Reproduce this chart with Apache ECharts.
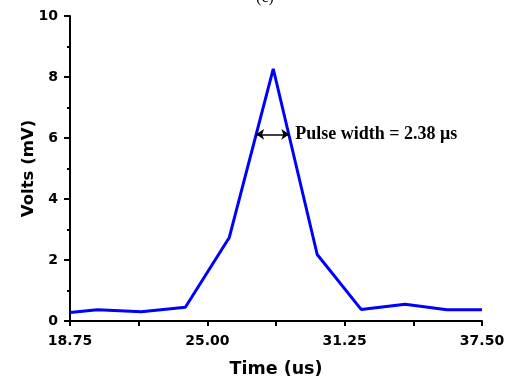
<!DOCTYPE html>
<html><head><meta charset="utf-8">
<script src="https://cdn.jsdelivr.net/npm/echarts@6/dist/echarts.min.js"></script>
<style>html,body{margin:0;padding:0;background:#fff}#c{width:509px;height:383px}</style>
</head><body><div id="c"></div>
<script>
const timeUs = [18.75, 20.0, 22.0, 24.0, 26.0, 28.0, 30.0, 32.0, 34.0, 35.9, 37.5];
const voltsMv = [0.28, 0.37, 0.30, 0.45, 2.74, 8.27, 2.18, 0.38, 0.55, 0.37, 0.37];
const xTicks = [18.75, 25.00, 31.25, 37.50];
const yTicks = [0, 2, 4, 6, 8, 10];
const pulseArrowX = [27.22, 28.73];
const pulseArrowY = 6.12;
const pulseLabel = 'Pulse width = 2.38 \u03bcs';
const titleText = '(c)';

const chart = echarts.init(document.getElementById('c'));
const sans = 'DejaVu Sans, sans-serif';
chart.setOption({
  animation: false,
  title: {text: titleText, left: 260, top: -15, textAlign: 'center',
    textStyle: {fontFamily: 'Liberation Serif, serif', fontWeight: 'normal', fontSize: 16, color: '#000'}},
  grid: {left: 70, right: 27, top: 16, bottom: 60},
  xAxis: {
    type: 'value', min: xTicks[0], max: xTicks[xTicks.length - 1], interval: 6.25,
    name: 'Time (us)', nameLocation: 'middle', nameGap: 39, nameMoveOverlap: false,
    nameTextStyle: {fontFamily: sans, fontWeight: 'bold', fontSize: 17.5, color: '#000'},
    axisLine: {show: true, lineStyle: {color: '#000', width: 2}},
    axisTick: {show: true, length: 5, inside: false, lineStyle: {color: '#000', width: 2}},
    minorTick: {show: true, splitNumber: 2, length: 5, lineStyle: {color: '#000', width: 2}},
    splitLine: {show: false},
    axisLabel: {fontFamily: sans, fontWeight: 'bold', fontSize: 14, color: '#000', margin: 13,
      formatter: v => v.toFixed(2), showMinLabel: true, showMaxLabel: true}
  },
  yAxis: {
    type: 'value', min: yTicks[0], max: yTicks[yTicks.length - 1], interval: 2,
    name: 'Volts (mV)', nameLocation: 'middle', nameGap: 33, nameMoveOverlap: false,
    nameTextStyle: {fontFamily: sans, fontWeight: 'bold', fontSize: 16.5, color: '#000'},
    axisLine: {show: true, lineStyle: {color: '#000', width: 2}},
    axisTick: {show: true, length: 6, lineStyle: {color: '#000', width: 2}},
    minorTick: {show: true, splitNumber: 2, length: 3, lineStyle: {color: '#000', width: 2}},
    splitLine: {show: false},
    axisLabel: {fontFamily: sans, fontWeight: 'bold', fontSize: 14, color: '#000', margin: 12}
  },
  series: [{
    type: 'line',
    data: timeUs.map((t, i) => [t, voltsMv[i]]),
    showSymbol: false,
    lineStyle: {color: '#0000ff', width: 3},
    markLine: {
      silent: true,
      symbol: ['arrow', 'arrow'], symbolSize: [8, 8],
      lineStyle: {color: '#000', width: 1.5, type: 'solid'},
      label: {show: true, position: 'end', distance: 6, formatter: pulseLabel,
        fontFamily: 'Liberation Serif, serif', fontWeight: 'bold', fontSize: 18, color: '#000'},
      data: [[{coord: [pulseArrowX[0], pulseArrowY]}, {coord: [pulseArrowX[1], pulseArrowY]}]]
    }
  }]
});
</script></body></html>
